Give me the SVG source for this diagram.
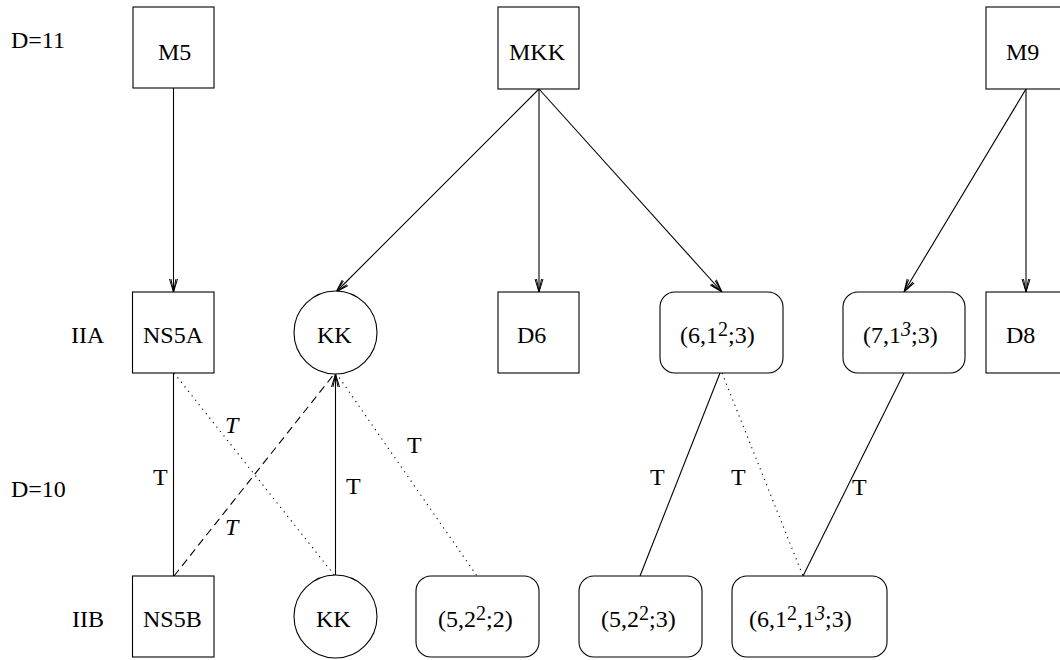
<svg xmlns="http://www.w3.org/2000/svg" width="1060" height="660" viewBox="0 0 1060 660">
<style>
text{font-family:"Liberation Serif","Times New Roman",serif;font-size:24px;fill:#000}
.it{font-style:italic}
.sup{font-size:20px}
.box{fill:#fff;stroke:#000;stroke-width:1.1}
.ln{fill:none;stroke:#000;stroke-width:1.1}
.dot{stroke-dasharray:1.2 4.5}
.dash{stroke-dasharray:8 5}
</style>
<defs>
<marker id="ah" markerUnits="userSpaceOnUse" viewBox="-14 -6 16 12" refX="0" refY="0" markerWidth="16" markerHeight="12" orient="auto" overflow="visible">
<path d="M-13,-4 L0,0 L-13,4 M-13,-2.5 L0,0 L-13,2.5" fill="none" stroke="#000" stroke-width="1"/>
</marker>
</defs>
<g id="row-labels">
<text x="11" y="48">D=11</text>
<text x="71" y="343">IIA</text>
<text x="11" y="497">D=10</text>
<text x="72" y="627">IIB</text>
</g>
<g id="connectors">
<line class="ln" x1="173.5" y1="88" x2="173.5" y2="292" marker-end="url(#ah)"/>
<line class="ln" x1="539" y1="89" x2="336" y2="292" marker-end="url(#ah)"/>
<line class="ln" x1="539" y1="89" x2="539" y2="292" marker-end="url(#ah)"/>
<line class="ln" x1="539" y1="89" x2="722" y2="292" marker-end="url(#ah)"/>
<line class="ln" x1="1026" y1="89" x2="904" y2="292" marker-end="url(#ah)"/>
<line class="ln" x1="1026" y1="89" x2="1026" y2="292" marker-end="url(#ah)"/>
<line class="ln" x1="173.5" y1="373" x2="173.5" y2="576"/>
<line class="ln dot" x1="174" y1="373" x2="335" y2="576"/>
<line class="ln dash" x1="174" y1="576" x2="335" y2="373"/>
<line class="ln" x1="335.5" y1="575" x2="335.5" y2="374" marker-end="url(#ah)"/>
<line class="ln dot" x1="336" y1="373" x2="477" y2="576"/>
<line class="ln" x1="720" y1="373" x2="640" y2="576"/>
<line class="ln dot" x1="722" y1="373" x2="803" y2="576"/>
<line class="ln" x1="904" y1="373" x2="803" y2="576"/>
<text x="153" y="485">T</text>
<text class="it" x="225" y="433">T</text>
<text class="it" x="225" y="535">T</text>
<text x="346" y="494">T</text>
<text x="407" y="453">T</text>
<text x="650" y="485">T</text>
<text x="731" y="485">T</text>
<text x="852" y="495">T</text>
</g>
<g id="M5"><rect class="box" x="133" y="7" width="81" height="81"/><text x="158" y="60">M5</text></g>
<g id="MKK"><rect class="box" x="498" y="7" width="81" height="82"/><text x="509" y="60">MKK</text></g>
<g id="M9"><rect class="box" x="986" y="7" width="81" height="82"/><text x="1006" y="60">M9</text></g>
<g id="NS5A"><rect class="box" x="132.5" y="292" width="81.5" height="81"/><text x="143" y="343">NS5A</text></g>
<g id="KK-A"><circle class="box" cx="335.5" cy="332.5" r="41.5"/><text x="317" y="343">KK</text></g>
<g id="D6"><rect class="box" x="498" y="292" width="81" height="81"/><text x="517" y="343">D6</text></g>
<g id="n613"><rect class="box" x="660" y="292" width="123" height="81" rx="15"/><text x="680" y="343">(6,1<tspan class="sup" dy="-7">2</tspan><tspan dy="7">;3)</tspan></text></g>
<g id="n713"><rect class="box" x="843" y="292" width="122" height="81" rx="15"/><text x="863" y="343">(7,1<tspan class="sup it" dy="-7">3</tspan><tspan dy="7">;3)</tspan></text></g>
<g id="D8"><rect class="box" x="986" y="292" width="81" height="81"/><text x="1006" y="343">D8</text></g>
<g id="NS5B"><rect class="box" x="132.5" y="576" width="81.5" height="81"/><text x="143" y="627">NS5B</text></g>
<g id="KK-B"><circle class="box" cx="335.5" cy="616.5" r="41.5"/><text x="316" y="627">KK</text></g>
<g id="n522-2"><rect class="box" x="416" y="576" width="123" height="81" rx="15"/><text x="438" y="627">(5,2<tspan class="sup" dy="-7">2</tspan><tspan dy="7">;2)</tspan></text></g>
<g id="n522-3"><rect class="box" x="579" y="576" width="123" height="81" rx="15"/><text x="601" y="627">(5,2<tspan class="sup" dy="-7">2</tspan><tspan dy="7">;3)</tspan></text></g>
<g id="n61213"><rect class="box" x="732" y="576" width="155" height="81" rx="15"/><text x="749" y="627">(6,1<tspan class="sup" dy="-7">2</tspan><tspan dy="7">,1</tspan><tspan class="sup it" dy="-7">3</tspan><tspan dy="7">;3)</tspan></text></g>
</svg>
